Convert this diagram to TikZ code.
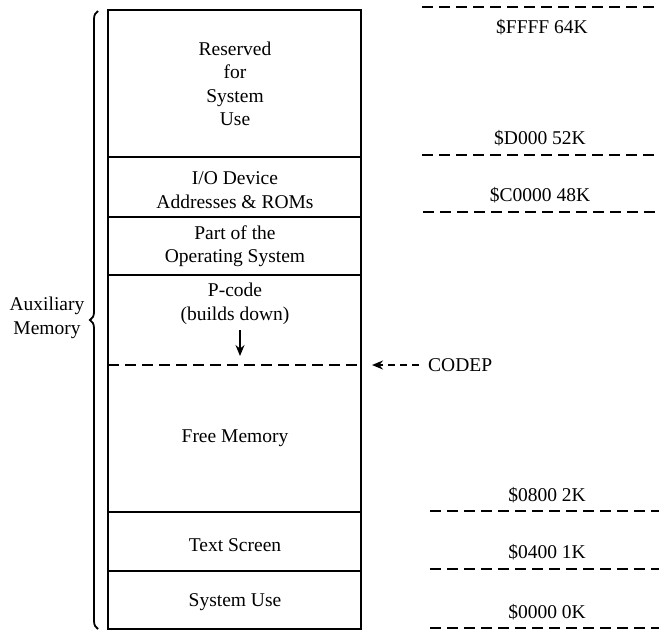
\documentclass[tikz,border=0pt]{standalone}
\usepackage{fontspec}
\setmainfont{Liberation Serif}
\usetikzlibrary{arrows.meta,decorations.pathreplacing}
\begin{document}
\begin{tikzpicture}[x=1pt,y=-1pt,
  lbl/.style={font=\fontsize{19.5}{23.5}\selectfont,align=center,inner sep=0pt},
  solidline/.style={line width=1.6pt},
  dashline/.style={line width=1.5pt,dash pattern=on 11pt off 6pt},
  arr/.style={line width=1.6pt,-{Stealth[length=11pt,width=9pt]}}]
\useasboundingbox (0,0) rectangle (659,630);
% main box
\draw[solidline] (108,10) rectangle (361,629);
\draw[solidline] (108,157) -- (361,157);
\draw[solidline] (108,217) -- (361,217);
\draw[solidline] (108,275) -- (361,275);
\draw[dashline] (108,365) -- (361,365);
\draw[solidline] (108,512) -- (361,512);
\draw[solidline] (108,571) -- (361,571);
% region texts
\node[lbl] (res) at (235,84) {Reserved\\for\\System\\Use};
\node[lbl] (io) at (235,190) {I/O Device\\Addresses \& ROMs};
\node[lbl] (os) at (235,246) {Part of the\\Operating System};
\node[lbl] (pc) at (235,304) {P-code\\(builds down)};
\coordinate (pcs) at (240,330);
\coordinate (pce) at (240,356);
\draw[arr] (pcs) -- (pce);
\node[lbl] (free) at (235,438) {Free Memory};
\node[lbl] (ts) at (235,545) {Text Screen};
\node[lbl] (su) at (235,602) {System Use};
% brace
\draw[line width=1.8pt,decorate,decoration={brace,amplitude=8pt}] (98,629) -- (98,11);
\node[lbl] (aux) at (47,318) {Auxiliary\\Memory};
% CODEP
\node[lbl,anchor=west] (codep) at (428,365) {CODEP};
\coordinate (cp) at (372,365);
\draw[arr,dash pattern=on 7pt off 5pt] (codep.west) ++(-9,0) -- (cp);
% right address lines
\draw[dashline] (422,7) -- (659,7);
\draw[dashline] (422,155) -- (659,155);
\draw[dashline] (423,212) -- (659,212);
\draw[dashline] (430,511) -- (659,511);
\draw[dashline] (430,569) -- (659,569);
\draw[dashline] (430,628) -- (659,628);
\node[lbl] (a1) at (542,27) {\$FFFF 64K};
\node[lbl] (a2) at (540,138) {\$D000 52K};
\node[lbl] (a3) at (540,195) {\$C0000 48K};
\node[lbl] (a4) at (547,495) {\$0800 2K};
\node[lbl] (a5) at (547,552) {\$0400 1K};
\node[lbl] (a6) at (547,612) {\$0000 0K};
\end{tikzpicture}
\end{document}
